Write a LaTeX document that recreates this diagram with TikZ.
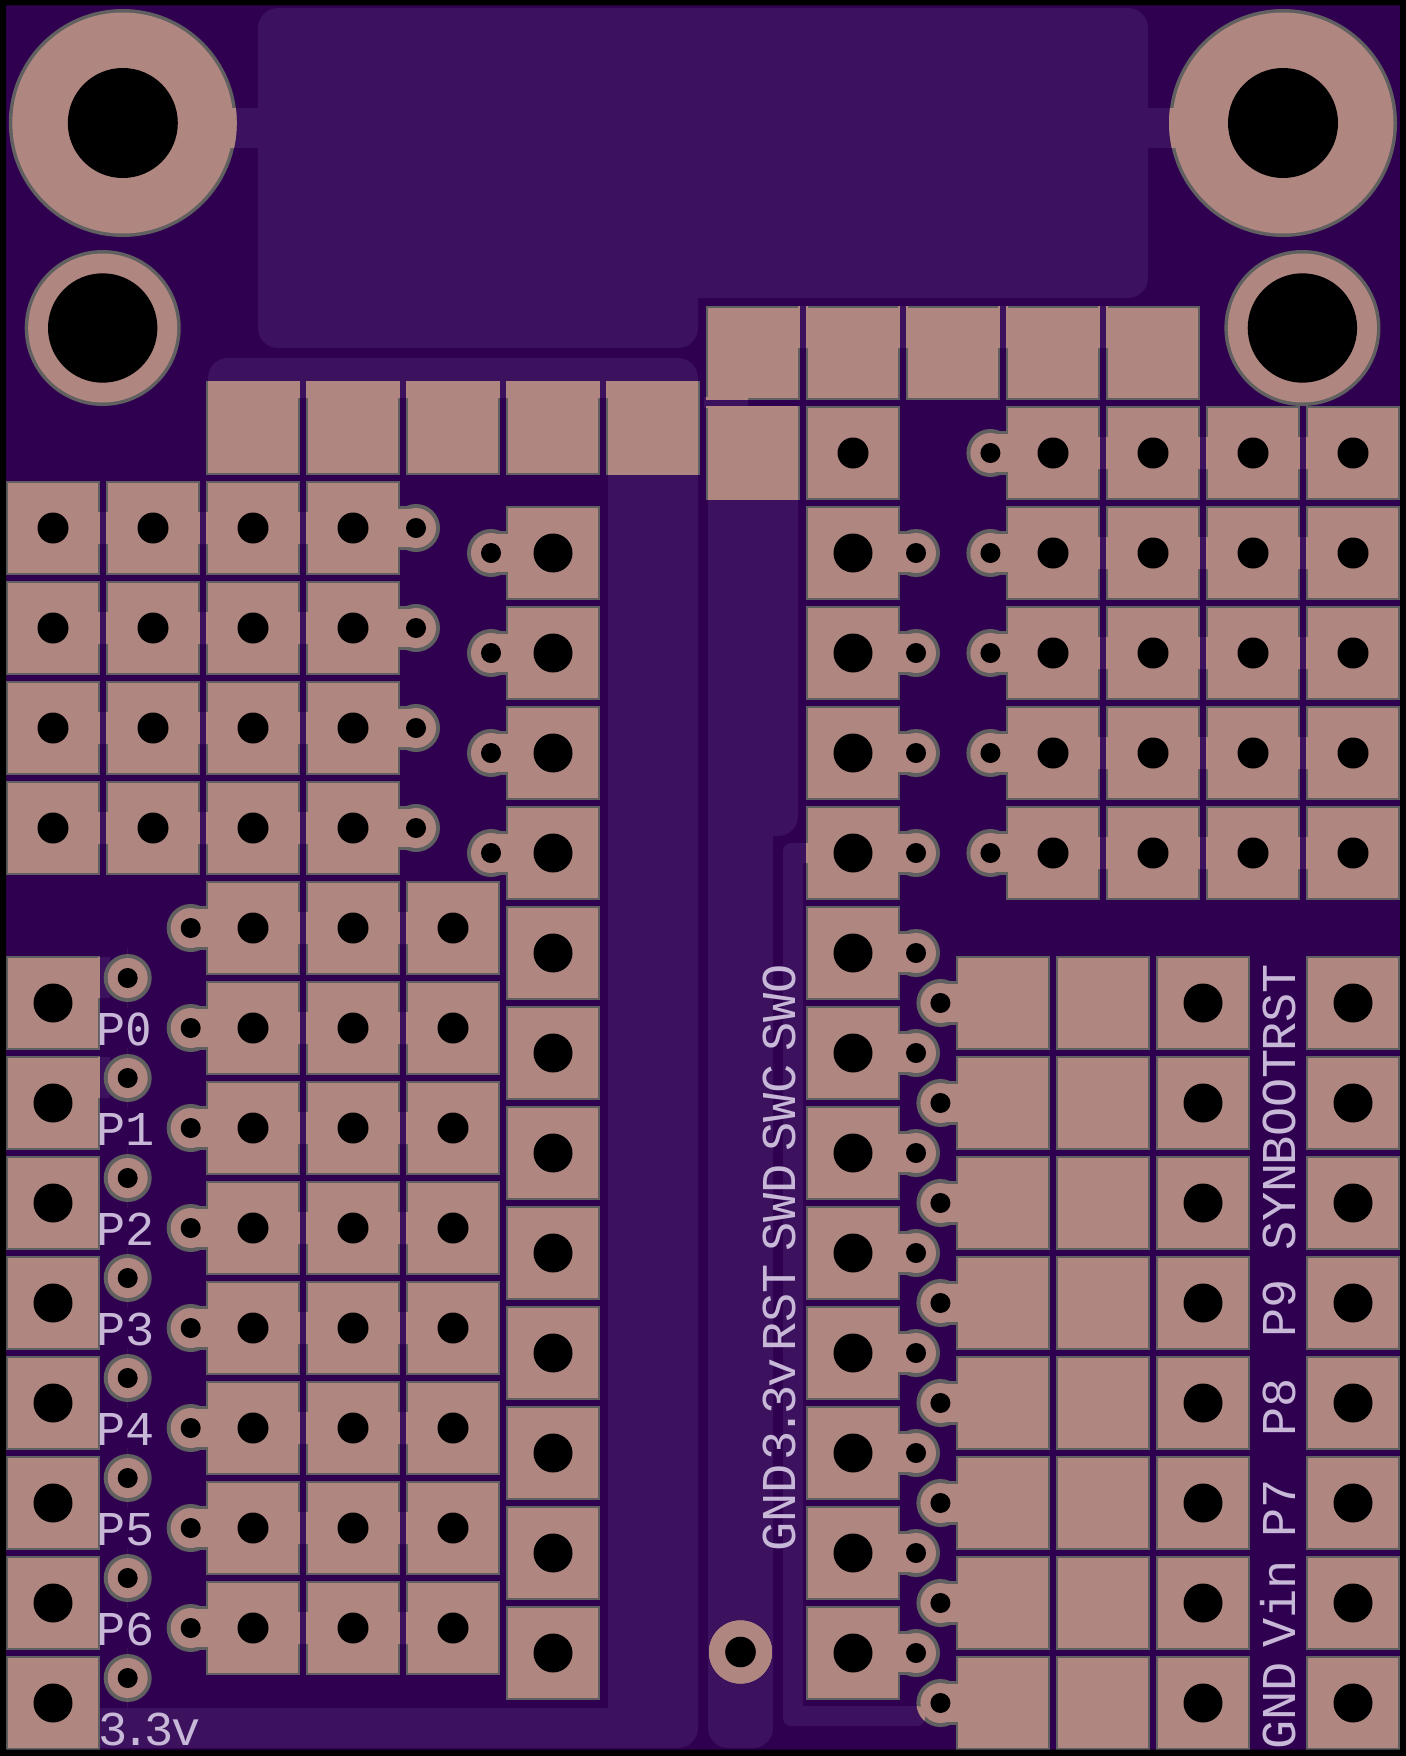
\documentclass[tikz,border=0pt]{standalone}
\usepackage{fontspec}
\newfontfamily\silkfont{Liberation Mono}
\newfontfamily\zerofont{DejaVu Sans Mono}
\definecolor{boardc}{HTML}{300050}
\definecolor{pourc}{HTML}{3C125E}
\definecolor{padc}{HTML}{AF8680}
\definecolor{ringc}{HTML}{606060}
\definecolor{silkc}{HTML}{C8B8D8}
% square pad
\newcommand\padbox[2]{%
  \fill[ringc] (#1-47,#2-47) rectangle (#1+47,#2+47);
  \fill[padc] (#1-45,#2-45) rectangle (#1+45,#2+45);}
% via: centre x, y, pad edge x, x just inside the pad
\newcommand\viahole[4]{%
  \fill[ringc] (#1,#2) circle[radius=24];
  \fill[ringc] (#3,#2-22) rectangle (#1,#2+22);
  \fill[padc] (#1,#2) circle[radius=20];
  \fill[padc] (#4,#2-19) rectangle (#1,#2+19);
  \fill[padc] (#4,#2-30) rectangle (#3+4*#4-4*#3,#2+30);}
\newcommand\mountpad[4]{%
  \fill[ringc] (#1,#2) circle[radius=#3];
  \fill[padc] (#1,#2) circle[radius=#3-#4];}
\newcommand\allpads{%
  \mountpad{122.8}{123}{114}{3.5}
  \mountpad{1283}{123}{114}{3.5}
  \mountpad{102.7}{328}{78}{3.5}
  \mountpad{1302.4}{328}{78}{3.5}
  \mountpad{740.5}{1652}{31.5}{0}
  \foreach \x in {253,353,453,553,653} {\padbox{\x}{428}}
  \foreach \x in {753,853,953,1053,1153} {\padbox{\x}{352.5}}
  \padbox{753}{453}
  \padbox{853}{453}
  \foreach \y in {528,628,728,828} {
    \foreach \x in {53,153,253,353} {\padbox{\x}{\y}}
    \viahole{416}{\y}{400}{397}}
  \foreach \y in {928,1028,1128,1228,1328,1428,1528,1628} {
    \foreach \x in {253,353,453} {\padbox{\x}{\y}}
    \viahole{190.7}{\y}{206}{209}}
  \foreach \y in {553,653,753,853,953,1053,1153,1253,1353,1453,1553,1653} {
    \padbox{553}{\y}
    \padbox{853}{\y}
    \viahole{916}{\y}{900}{897}}
  \foreach \y in {553,653,753,853} {\viahole{491}{\y}{506}{509}}
  \foreach \y in {453,553,653,753,853} {
    \foreach \x in {1053,1153,1253,1353} {\padbox{\x}{\y}}
    \viahole{990.4}{\y}{1006}{1009}}
  \foreach \y in {1003,1103,1203,1303,1403,1503,1603,1703} {
    \padbox{53}{\y}
    \foreach \x in {1003,1103,1203,1353} {\padbox{\x}{\y}}
    \viahole{940.4}{\y}{956}{959}}
  \foreach \y in {978,1078,1178,1278,1378,1478,1578,1678} {\viahole{127.7}{\y}{127.7}{127.7}}
}
% copper under the mask: every piece runs in the same direction, so the union clips cleanly
\newcommand\pourpath{%
  [rounded corners=10pt]
  (258,8) rectangle (1148,298)
  (258,100) rectangle (698,348)
  (208,358) rectangle (698,398)
  (608,1700) rectangle (698,1748)
  (708,780) rectangle (798,836)
  (708,1690) rectangle (773,1748)
  [rounded corners=4pt]
  (783,843) rectangle (803,880)
  (783,1706) rectangle (925,1726)
  [sharp corners]
  (225,108) rectangle (258,148)
  (1148,108) rectangle (1175,148)
  (208,378) rectangle (698,398)
  (608,378) rectangle (698,1720)
  (100,1708) rectangle (680,1748)
  (708,406) rectangle (798,816)
  (708,800) rectangle (773,1720)
  (704,397) rectangle (748,408)
  (790,843) rectangle (808,863)
  (783,860) rectangle (803,1715)
  (98,957) rectangle (103,998)
  (98,1057) rectangle (103,1098)
  \foreach \y in {528,628,728,828} {
    \foreach \x in {98,198,298} { (\x,\y-16) rectangle (\x+10,\y+16) }}
  \foreach \y in {928,1028,1128,1228,1328,1428,1528,1628} {
    \foreach \x in {298,398} { (\x,\y-16) rectangle (\x+10,\y+16) }}
  \foreach \y in {453,553,653,753,853} {
    \foreach \x in {1098,1198,1298} { (\x,\y-16) rectangle (\x+10,\y+16) }}
  \foreach \x in {798,898,998,1098} { (\x,306) rectangle (\x+10,348) }
}
\tikzset{
  silk/.style={text=silkc,inner sep=0pt,anchor=base west,
    font=\silkfont\fontsize{24.3pt}{24.3pt}\selectfont},
  silkup/.style={silk,rotate=90},
  holefill/.style={fill=black}
}
\begin{document}
\begin{tikzpicture}[x=0.5pt,y=-0.5pt]
\useasboundingbox (0,0) rectangle (1406,1756);
\fill[boardc] (0,0) rectangle (1406,1756);
\fill[pourc] \pourpath;
\fill[pourc] (98,957) rectangle (110,998) (98,1057) rectangle (110,1098);
\allpads
\begin{scope}
  \clip \pourpath;
  \colorlet{ringc}{padc}
  \allpads
\end{scope}
% drill holes
\foreach \p/\q/\r in {122.8/123/55,1283/123/55,102.7/328/54.7,1302.4/328/54.7,740.5/1652/15.3,853/453/15.5}
  {\fill[holefill] (\p,\q) circle[radius=\r];}
\foreach \y in {528,628,728,828}
  {\foreach \x in {53,153,253,353} {\fill[holefill] (\x,\y) circle[radius=15.5];}
   \fill[holefill] (416,\y) circle[radius=10];}
\foreach \y in {928,1028,1128,1228,1328,1428,1528,1628}
  {\foreach \x in {253,353,453} {\fill[holefill] (\x,\y) circle[radius=15.5];}
   \fill[holefill] (190.7,\y) circle[radius=10];}
\foreach \y in {553,653,753,853,953,1053,1153,1253,1353,1453,1553,1653}
  {\fill[holefill] (553,\y) circle[radius=19.5];
   \fill[holefill] (853,\y) circle[radius=19.5];
   \fill[holefill] (916,\y) circle[radius=10];}
\foreach \y in {553,653,753,853} {\fill[holefill] (491,\y) circle[radius=10];}
\foreach \y in {453,553,653,753,853}
  {\foreach \x in {1053,1153,1253,1353} {\fill[holefill] (\x,\y) circle[radius=15.5];}
   \fill[holefill] (990.4,\y) circle[radius=10];}
\foreach \y in {1003,1103,1203,1303,1403,1503,1603,1703}
  {\foreach \x in {53,1203,1353} {\fill[holefill] (\x,\y) circle[radius=19.5];}
   \fill[holefill] (940.4,\y) circle[radius=10];}
\foreach \y in {978,1078,1178,1278,1378,1478,1578,1678} {\fill[holefill] (127.7,\y) circle[radius=10];}
% frame
\fill[black,even odd rule] (0,0) rectangle (1406,1756) (6,5.3) rectangle (1400,1749.5);
% silkscreen
\node[silk] (p0) at (96,1045) {P{\zerofont\fontsize{22pt}{22pt}\selectfont 0}};
\node[silk] (p1) at (96,1145) {P1};
\node[silk] (p2) at (96,1245) {P2};
\node[silk] (p3) at (96,1345) {P3};
\node[silk] (p4) at (96,1445) {P4};
\node[silk] (p5) at (96,1545) {P5};
\node[silk] (p6) at (96,1645) {P6};
\node[silk] (v33) at (98,1745) {3\kern-3pt.\kern-3pt3\kern-1pt v};
\node[silkup] (gnda) at (795,1552) {GND};
\node[silkup] (v33b) at (795,1461) {3\kern-3pt.\kern-3pt3\kern-1pt v};
\node[silkup] (rst) at (795,1352) {RST};
\node[silkup] (swd) at (795,1252) {SWD};
\node[silkup] (swc) at (795,1152) {SWC};
\node[silkup] (swo) at (795,1052) {SWO};
\node[silkup] (gndb) at (1295,1750) {GND};
\node[silkup] (vin) at (1295,1648) {Vin};
\node[silkup] (p7) at (1295,1538) {P7};
\node[silkup] (p8) at (1295,1437) {P8};
\node[silkup] (p9) at (1295,1338) {P9};
\node[silkup] (syn) at (1295,1251) {SYN};
\node[silkup] (boot) at (1295,1166) {BOOT};
\node[silkup] (rstb) at (1295,1052) {RST};
\end{tikzpicture}
\end{document}
